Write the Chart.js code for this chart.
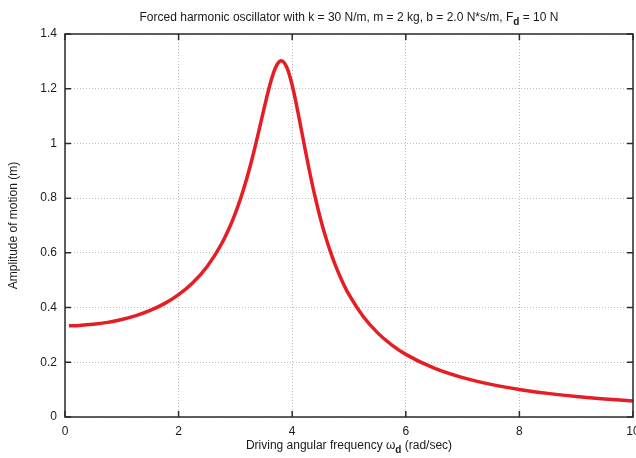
<!DOCTYPE html>
<html><head><meta charset="utf-8">
<script src="https://cdn.jsdelivr.net/npm/chart.js@4/dist/chart.umd.min.js"></script>
<style>html,body{margin:0;padding:0;background:#fff;overflow:hidden}#wrap{width:636px;height:458px;position:relative}</style>
</head><body><div id="wrap"><canvas id="c"></canvas></div>
<script>
const omega = [0.07,0.25,0.5,0.75,1.0,1.25,1.5,1.75,2.0,2.25,2.5,2.75,2.9,3.0,3.1,3.2,3.3,3.4,3.5,3.55,3.6,3.65,3.7,3.75,3.8,3.85,3.9,3.95,4.0,4.05,4.1,4.2,4.3,4.4,4.5,4.6,4.7,4.8,4.9,5.0,5.25,5.5,5.75,6.0,6.5,7.0,7.5,8.0,8.5,9.0,9.5,10];
const amplitude = [0.3334,0.3347,0.3388,0.3459,0.3562,0.3705,0.3895,0.4144,0.4472,0.4907,0.5494,0.6305,0.6945,0.7454,0.8041,0.8717,0.9486,1.0338,1.1233,1.1672,1.2083,1.2447,1.2739,1.2935,1.3018,1.2973,1.2802,1.2514,1.2127,1.1666,1.1157,1.0079,0.9029,0.8072,0.7231,0.6504,0.5878,0.5340,0.4875,0.4472,0.3672,0.3084,0.2638,0.2289,0.1785,0.1440,0.1193,0.1007,0.0864,0.0751,0.0659,0.0584];
const xTicks = [0,2,4,6,8,10];
const yTicks = [0,0.2,0.4,0.6,0.8,1,1.2,1.4];
const titleParts = [["Forced harmonic oscillator with k = 30 N/m, m = 2 kg, b = 2.0 N*s/m, F",0],["d",1],[" = 10 N",0]];
const xTitleParts = [["Driving angular frequency \u03c9",0],["d",1],[" (rad/sec)",0]];
const yTitle = "Amplitude of motion (m)";

const FONT = '"Liberation Sans", Arial, Helvetica, sans-serif';
const TXT = '#1a1a1a';

function drawParts(ctx, parts, cx, cy){
  const main = '12px ' + FONT, sub = 'bold 10px ' + FONT;
  let w = 0;
  parts.forEach(p => { ctx.font = p[1] ? sub : main; w += ctx.measureText(p[0]).width; });
  let x = cx - w/2;
  ctx.textBaseline = 'middle'; ctx.textAlign = 'left'; ctx.fillStyle = TXT;
  parts.forEach(p => {
    ctx.font = p[1] ? sub : main;
    ctx.fillText(p[0], x, cy + (p[1] ? 4 : 0));
    x += ctx.measureText(p[0]).width;
  });
}

const framePlugin = {
  id: 'frame',
  afterDraw(chart){
    const ctx = chart.ctx, a = chart.chartArea;
    const xs = chart.scales.x, ys = chart.scales.y;
    ctx.save();
    ctx.strokeStyle = '#2b2b2b'; ctx.lineWidth = 1.5;
    ctx.strokeRect(a.left, a.top, a.right - a.left, a.bottom - a.top);
    ctx.beginPath();
    xTicks.forEach(v => {
      const px = xs.getPixelForValue(v);
      ctx.moveTo(px, a.bottom); ctx.lineTo(px, a.bottom - 6);
      ctx.moveTo(px, a.top); ctx.lineTo(px, a.top + 6);
    });
    yTicks.forEach(v => {
      const py = ys.getPixelForValue(v);
      ctx.moveTo(a.left, py); ctx.lineTo(a.left + 6, py);
      ctx.moveTo(a.right, py); ctx.lineTo(a.right - 6, py);
    });
    ctx.stroke();
    const cx = (a.left + a.right)/2;
    drawParts(ctx, titleParts, cx, 18);
    drawParts(ctx, xTitleParts, cx, 446);
    ctx.translate(14, (a.top + a.bottom)/2);
    ctx.rotate(-Math.PI/2);
    ctx.font = '12px ' + FONT; ctx.fillStyle = TXT;
    ctx.textAlign = 'center'; ctx.textBaseline = 'middle';
    ctx.fillText(yTitle, 0, 0);
    ctx.restore();
  }
};

const gridOpts = {color:'#bdbdbd', lineWidth:1, drawTicks:false};
new Chart(document.getElementById('c'), {
  type: 'line',
  data: { datasets: [{
    data: omega.map((w,i) => ({x:w, y:amplitude[i]})),
    borderColor: '#e51e25', borderWidth: 3.5, pointRadius: 0,
    cubicInterpolationMode: 'monotone', fill: false
  }]},
  options: {
    responsive: true, maintainAspectRatio: false, animation: false,
    layout: {padding: {top: 34, right: 3, left: 0, bottom: 0}},
    plugins: {legend:{display:false}, tooltip:{enabled:false}, title:{display:false}},
    scales: {
      x: {
        type: 'linear', min: 0, max: 10,
        afterBuildTicks(s){ s.ticks = xTicks.map(v => ({value:v})); },
        afterFit(s){ s.height = 41; s.paddingRight = 0; s.paddingLeft = 0; },
        ticks: {font:{family:FONT, size:12}, color:TXT, padding:7, maxRotation:0, autoSkip:false, callback: v => String(v)},
        grid: gridOpts, border: {display:false, dash:[1,2]}
      },
      y: {
        min: 0, max: 1.4,
        afterBuildTicks(s){ s.ticks = yTicks.map(v => ({value:v})); },
        afterFit(s){ s.width = 65; },
        ticks: {font:{family:FONT, size:12}, color:TXT, padding:8, autoSkip:false, callback: v => String(v)},
        grid: gridOpts, border: {display:false, dash:[1,2]}
      }
    }
  },
  plugins: [framePlugin]
});
</script>
</body></html>
